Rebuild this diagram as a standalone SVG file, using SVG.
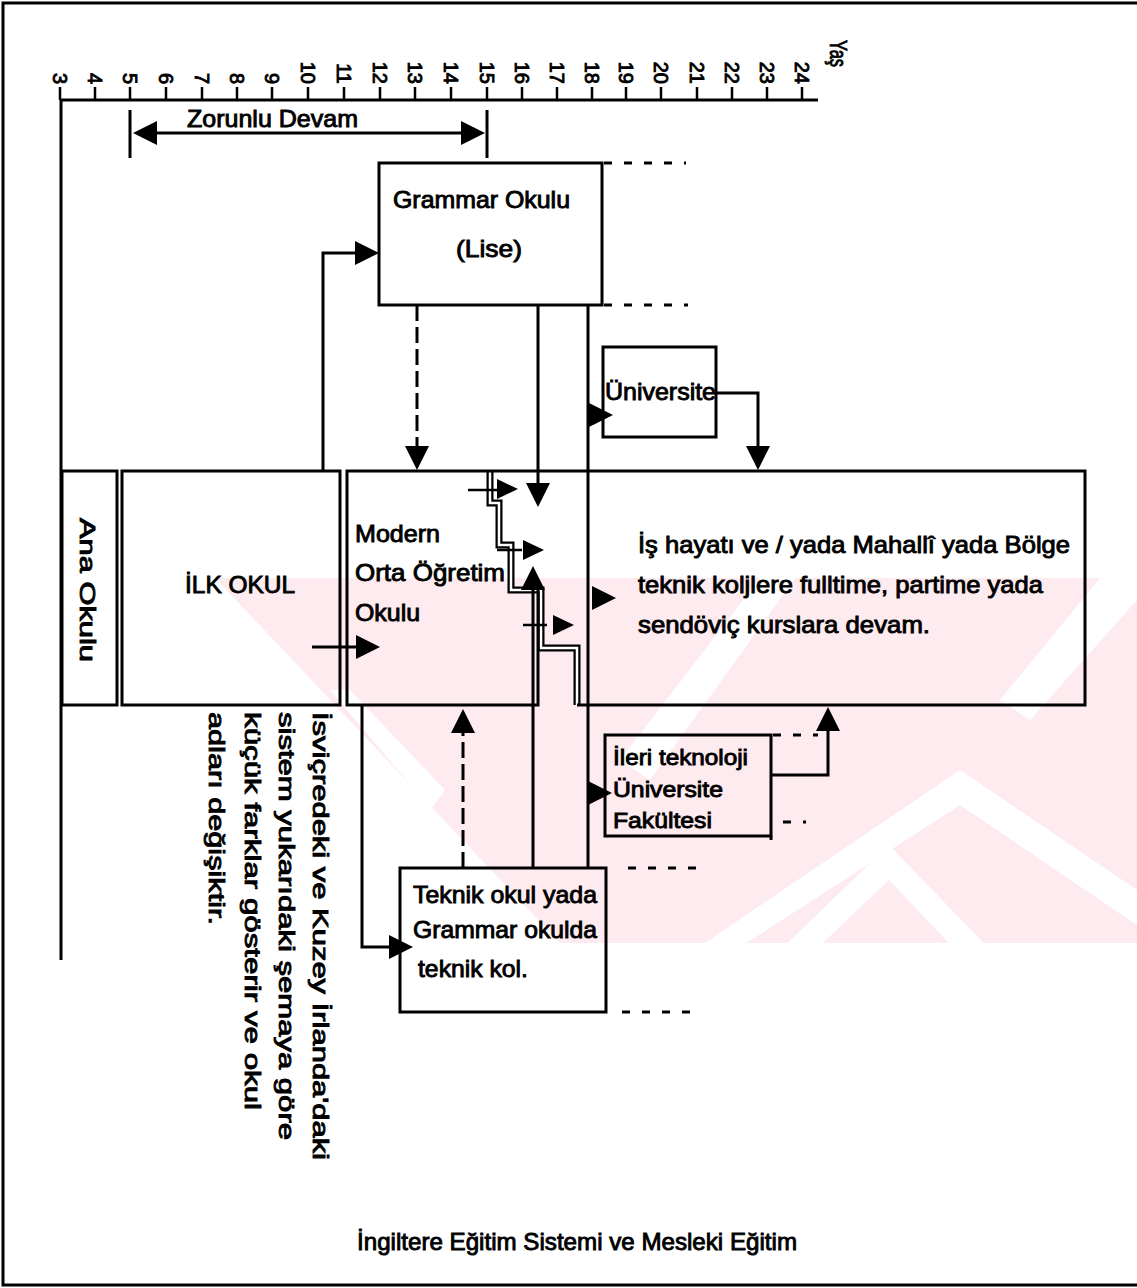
<svg xmlns="http://www.w3.org/2000/svg" xmlns:xlink="http://www.w3.org/1999/xlink" width="1137" height="1288" viewBox="0 0 1137 1288">
<style>
.t{font-family:"Liberation Sans",Arial,sans-serif;fill:#000;stroke:#000;stroke-width:0.9}
.f24{font-size:24px}
.f22{font-size:22px}
.f20{font-size:20px}
.ln{fill:none;stroke:#000;stroke-width:3}
.thin{fill:none;stroke:#000;stroke-width:2.5}
.box{fill:none;stroke:#000;stroke-width:3}
.dot{fill:none;stroke:#000;stroke-width:3;stroke-dasharray:8 12}
.dash{fill:none;stroke:#000;stroke-width:3;stroke-dasharray:16 6}
.wm{fill:#fdebef}
</style>
<defs>
<path id="ah" d="M0,0 L-24,-12 L-24,12 Z" fill="#000"/>
<path id="ahs" d="M0,0 L-21,-10 L-21,10 Z" fill="#000"/>
<clipPath id="band"><rect x="0" y="578" width="1137" height="365"/></clipPath>
</defs>
<rect width="1137" height="1288" fill="#fff"/>
<g id="watermark" clip-path="url(#band)">
<polygon class="wm" points="215,578 1137,578 1137,943 560,943"/>
<polygon fill="#fff" points="350,690 445,790 360,905 335,905 415,790 330,690"/>
<polygon fill="#fff" points="680,960 960,770 1137,890 1137,925 960,805 720,960"/>
<polygon fill="#fff" points="770,960 889,845 1000,960 965,960 889,880 805,960"/>
<polygon fill="#fff" points="620,760 760,578 795,578 650,780"/>
<polygon fill="#fff" points="1000,700 1100,578 1137,578 1137,600 1030,720"/>
</g>
<path id="frame" d="M1137,3 H3 V1285 H1137" fill="none" stroke="#000" stroke-width="3"/>
<g id="axis">
<path class="ln" d="M60,100 H818 M61,100 V960"/>
<path class="thin" d="M60,87V100 M95,87V100 M130,87V100 M166,87V100 M202,87V100 M237,87V100 M272,87V100 M308,87V100 M344,87V100 M380,87V100 M415,87V100 M451,87V100 M487,87V100 M522,87V100 M557,87V100 M592,87V100 M626,87V100 M661,87V100 M697,87V100 M732,87V100 M767,87V100 M802,87V100"/>
<g class="t f20" text-anchor="end">
<text transform="translate(53,84) rotate(90)">3</text>
<text transform="translate(88,84) rotate(90)">4</text>
<text transform="translate(123,84) rotate(90)">5</text>
<text transform="translate(159,84) rotate(90)">6</text>
<text transform="translate(195,84) rotate(90)">7</text>
<text transform="translate(230,84) rotate(90)">8</text>
<text transform="translate(265,84) rotate(90)">9</text>
<text transform="translate(301,84) rotate(90)">10</text>
<text transform="translate(337,84) rotate(90)">11</text>
<text transform="translate(373,84) rotate(90)">12</text>
<text transform="translate(408,84) rotate(90)">13</text>
<text transform="translate(444,84) rotate(90)">14</text>
<text transform="translate(480,84) rotate(90)">15</text>
<text transform="translate(515,84) rotate(90)">16</text>
<text transform="translate(550,84) rotate(90)">17</text>
<text transform="translate(585,84) rotate(90)">18</text>
<text transform="translate(619,84) rotate(90)">19</text>
<text transform="translate(654,84) rotate(90)">20</text>
<text transform="translate(690,84) rotate(90)">21</text>
<text transform="translate(725,84) rotate(90)">22</text>
<text transform="translate(760,84) rotate(90)">23</text>
<text transform="translate(795,84) rotate(90)">24</text>
</g>
<text class="t" style="font-size:23px" transform="translate(830,40) rotate(90)" textLength="27" lengthAdjust="spacingAndGlyphs">Yaş</text>
</g>
<g id="zorunlu">
<path class="ln" d="M130,110 V158 M487,110 V158 M150,133 H468"/>
<use xlink:href="#ah" transform="translate(133,133) rotate(180)"/>
<use xlink:href="#ah" transform="translate(485,133)"/>
<text class="t f24" x="187" y="127" textLength="171" lengthAdjust="spacingAndGlyphs">Zorunlu Devam</text>
</g>
<g id="connectors">
<path class="ln" stroke-width="3.5" d="M323,471 V253 H360"/>
<use xlink:href="#ah" transform="translate(379,253)"/>
<path class="dash" d="M417,305 V448"/>
<use xlink:href="#ah" transform="translate(417,470) rotate(90)"/>
<path class="ln" d="M538,305 V484"/>
<use xlink:href="#ah" transform="translate(538,507) rotate(90)"/>
<path class="ln" stroke-width="4.5" d="M588,305 V868"/>
<use xlink:href="#ah" transform="translate(613,415)"/>
<use xlink:href="#ah" transform="translate(616,598)"/>
<use xlink:href="#ah" transform="translate(612,793)"/>
<path class="ln" d="M716,393 H758 V448"/>
<use xlink:href="#ah" transform="translate(758,470) rotate(90)"/>
<path d="M490,471 V503 H499 V545 H511 V590 H541 V648 H577 V705" fill="none" stroke="#000" stroke-width="7"/>
<path d="M490,471 V503 H499 V545 H511 V590 H541 V648 H577 V705" fill="none" stroke="#fff" stroke-width="2.5"/>
<path class="thin" d="M468,490 H497 M497,550 H522 M523,625 H547"/>
<use xlink:href="#ahs" transform="translate(518,489)"/>
<use xlink:href="#ahs" transform="translate(544,550)"/>
<use xlink:href="#ahs" transform="translate(574,625)"/>
<path class="ln" d="M533,868 V588"/>
<use xlink:href="#ah" transform="translate(533,566) rotate(-90)"/>
<path class="ln" d="M362,705 V947 H392"/>
<use xlink:href="#ah" transform="translate(413,947)"/>
<path class="dash" stroke-dasharray="14 9" d="M463,868 V731"/>
<use xlink:href="#ah" transform="translate(463,709) rotate(-90)"/>
<path class="ln" d="M312,647 H358"/>
<use xlink:href="#ah" transform="translate(380,647)"/>
<path class="ln" d="M771,775 H828 V730"/>
<use xlink:href="#ah" transform="translate(828,707) rotate(-90)"/>
<path class="dot" stroke-dasharray="9 4" d="M604,163 H686 M604,305 H688"/>
<path class="dot" stroke-dasharray="9 6" d="M773,735 H806 M813,735 H818 M783,822 H806"/>
<path class="dot" d="M628,868 H702 M622,1012 H702"/>
</g>
<g id="ana-okulu">
<rect class="box" x="62" y="471" width="55" height="234"/>
<text class="t f22" transform="translate(80,518) rotate(90)" textLength="144" lengthAdjust="spacingAndGlyphs">Ana Okulu</text>
</g>
<g id="ilk-okul">
<rect class="box" x="122" y="471" width="218" height="234"/>
<text class="t f24" x="185" y="593" textLength="110" lengthAdjust="spacingAndGlyphs">İLK OKUL</text>
</g>
<g id="grammar">
<rect class="box" x="379" y="163" width="223" height="142"/>
<text class="t f24" x="393" y="208" textLength="177" lengthAdjust="spacingAndGlyphs">Grammar Okulu</text>
<text class="t f24" x="456" y="257" textLength="66" lengthAdjust="spacingAndGlyphs">(Lise)</text>
</g>
<g id="modern">
<path class="box" d="M490,471 H347 V705 H538 V590"/>
<text class="t f24" x="355" y="542" textLength="85" lengthAdjust="spacingAndGlyphs">Modern</text>
<text class="t f24" x="355" y="581" textLength="150" lengthAdjust="spacingAndGlyphs">Orta  Öğretim</text>
<text class="t f24" x="355" y="621" textLength="65" lengthAdjust="spacingAndGlyphs">Okulu</text>
</g>
<g id="universite">
<rect class="box" x="603" y="347" width="113" height="90"/>
<text class="t f24" x="605" y="400" textLength="111" lengthAdjust="spacingAndGlyphs">Üniversite</text>
</g>
<g id="is-hayati">
<path class="box" d="M490,471 H1085 V705 H577"/>
<text class="t f24" x="638" y="553" textLength="432" lengthAdjust="spacingAndGlyphs">İş hayatı ve  / yada Mahallî yada Bölge</text>
<text class="t f24" x="638" y="593" textLength="405" lengthAdjust="spacingAndGlyphs">teknik koljlere fulltime, partime yada</text>
<text class="t f24" x="638" y="633" textLength="292" lengthAdjust="spacingAndGlyphs">sendöviç kurslara devam.</text>
</g>
<g id="ileri">
<rect class="box" x="605" y="735" width="166" height="101"/>
<path class="box" d="M771,836 V840"/>
<text class="t f22" x="613" y="765" textLength="135" lengthAdjust="spacingAndGlyphs">İleri teknoloji</text>
<text class="t f22" x="613" y="797" textLength="110" lengthAdjust="spacingAndGlyphs">Üniversite</text>
<text class="t f22" x="613" y="828" textLength="99" lengthAdjust="spacingAndGlyphs">Fakültesi</text>
</g>
<g id="teknik">
<rect class="box" x="400" y="868" width="206" height="144"/>
<text class="t f24" x="413" y="903" textLength="184" lengthAdjust="spacingAndGlyphs">Teknik okul yada</text>
<text class="t f24" x="413" y="938" textLength="184" lengthAdjust="spacingAndGlyphs">Grammar okulda</text>
<text class="t f24" x="418" y="977" textLength="110" lengthAdjust="spacingAndGlyphs">teknik kol.</text>
</g>
<g id="note" class="t f22">
<text transform="translate(313,712) rotate(90)" textLength="448" lengthAdjust="spacingAndGlyphs">İsviçredeki ve Kuzey İrlanda'daki</text>
<text transform="translate(279,712) rotate(90)" textLength="428" lengthAdjust="spacingAndGlyphs">sistem yukarıdaki şemaya göre</text>
<text transform="translate(245,712) rotate(90)" textLength="398" lengthAdjust="spacingAndGlyphs">küçük farklar gösterir ve okul</text>
<text transform="translate(209,712) rotate(90)" textLength="213" lengthAdjust="spacingAndGlyphs">adları değişiktir.</text>
</g>
<g id="caption">
<text class="t f24" x="357" y="1250" textLength="440" lengthAdjust="spacingAndGlyphs">İngiltere Eğitim Sistemi ve Mesleki Eğitim</text>
</g>
</svg>
